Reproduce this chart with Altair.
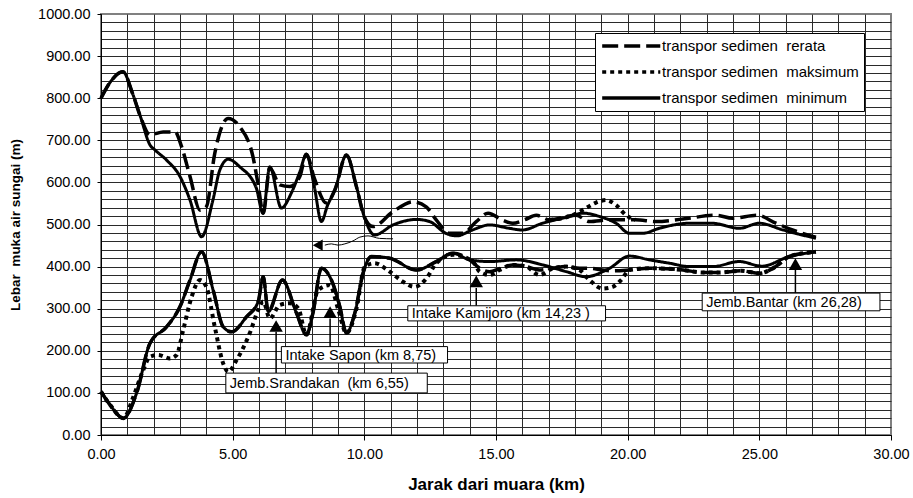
import altair as alt
import pandas as pd

# ---------------- series data (km, lebar m) ----------------
# transpor sedimen minimum (solid)
min_up_km = [0, 0.35, 0.83, 1.2, 1.5, 1.86, 2.05, 2.49, 3.0, 3.38, 3.82, 4.25, 4.51, 4.83, 5.27, 5.9, 6.15,
             6.41, 6.85, 7.23, 7.55, 7.8, 8.1, 8.37, 8.6, 8.88, 9.32, 9.7, 10.0, 10.39, 11.09, 11.98, 12.48,
             13.1, 13.5, 14.1, 14.76, 15.5, 16.0, 16.77, 17.8, 18.3, 18.93, 19.56, 20.07, 20.57, 21.2, 22.35,
             23.2, 24.24, 25.0, 25.9, 27.15]
min_up_val = [800, 838, 863, 811, 756, 689, 677, 653, 614, 558, 471, 558, 629, 655, 637, 586, 527,
              637, 539, 575, 625, 667, 590, 507, 545, 582, 665, 590, 518, 475, 499, 512, 507,
              479, 473, 487, 499, 491, 487, 503, 519, 527, 519, 503, 479, 479, 491, 503,
              503, 491, 503, 487, 467]
min_lo_km = [0, 0.35, 0.85, 1.35, 1.86, 2.49, 3.0, 3.38, 3.82, 4.26, 4.64, 4.96, 5.53, 5.97, 6.16, 6.35,
             6.89, 7.42, 7.8, 8.05, 8.37, 8.75, 9.07, 9.32, 9.64, 9.95, 10.27, 10.96, 11.98, 12.73, 13.37,
             14.0, 14.76, 15.77, 16.78, 17.67, 18.42, 19.31, 20.07, 20.83, 21.59, 22.35, 23.23, 24.24,
             25.1, 26.14, 27.15]
min_lo_val = [103, 71, 40, 99, 218, 257, 305, 368, 435, 344, 257, 245, 281, 317, 376, 293,
              368, 290, 238, 290, 396, 368, 305, 242, 290, 384, 424, 420, 392, 412, 432,
              416, 412, 416, 404, 388, 376, 396, 425, 416, 408, 400, 400, 412,
              401, 424, 435]

# transpor sedimen rerata (long dash)
rer_up_km = [0, 0.35, 0.83, 1.2, 1.5, 1.86, 2.36, 2.81, 3.06, 3.38, 3.76, 4.0, 4.32, 4.83, 5.27, 5.77,
             5.97, 6.16, 6.41, 6.79, 7.17, 7.55, 7.8, 8.1, 8.56, 8.88, 9.32, 9.7, 10.0, 10.33, 11.08,
             11.85, 12.35, 12.73, 13.24, 13.74, 14.25, 14.7, 15.26, 15.64, 16.08, 16.53, 17.03, 18.04,
             18.55, 19.31, 20.3, 21.08, 22.1, 23.36, 23.98, 24.92, 25.63, 26.26, 27.15]
rer_up_val = [800, 838, 863, 811, 756, 713, 720, 720, 685, 614, 534, 542, 669, 752, 732, 661,
              594, 527, 634, 594, 590, 614, 667, 610, 551, 582, 665, 590, 518, 495, 530,
              554, 542, 511, 479, 479, 507, 527, 510, 503, 511, 522, 511, 522,
              507, 511, 511, 507, 513, 522, 515, 522, 503, 487, 470]
rer_lo_km = [0, 0.35, 0.85, 1.35, 1.86, 2.49, 3.0, 3.38, 3.82, 4.26, 4.64, 4.96, 5.53, 5.97, 6.16, 6.35,
             6.89, 7.42, 7.8, 8.05, 8.37, 8.75, 9.07, 9.32, 9.64, 9.95, 10.27, 10.96, 11.98, 12.73, 13.37,
             14.0, 14.38, 14.76, 15.14, 15.64, 16.15, 16.65, 17.16, 17.67, 18.17, 18.55, 19.05, 19.43,
             20.07, 20.83, 22.1, 22.84, 23.48, 24.3, 25.0, 25.57, 26.14, 27.15]
rer_lo_val = [103, 71, 40, 99, 218, 257, 305, 368, 435, 344, 257, 245, 281, 317, 376, 293,
              368, 290, 238, 290, 396, 368, 305, 242, 290, 384, 424, 420, 392, 412, 432,
              416, 396, 388, 395, 404, 400, 392, 396, 400, 396, 396, 392, 390,
              392, 396, 392, 386, 386, 390, 384, 398, 424, 435]

# transpor sedimen maksimum (dotted)
mak_up_km = [17.03, 17.6, 18.04, 18.42, 18.8, 19.18, 19.56, 19.94, 20.3]
mak_up_val = [511, 516, 526, 539, 552, 558, 546, 522, 511]
mak_lo_km = [0, 0.35, 0.85, 1.23, 1.6, 1.86, 2.17, 2.62, 2.87, 3.12, 3.44, 3.76, 4.0, 4.32, 4.64, 4.83,
             5.15, 5.65, 5.97, 6.16, 6.41, 6.79, 7.17, 7.49, 7.8, 8.24, 8.69, 9.0, 9.32, 9.7, 10.02,
             10.39, 10.96, 11.47, 11.91, 12.36, 12.73, 13.37, 14.12, 14.38, 14.76, 15.14, 15.64, 16.15,
             16.65, 17.16, 17.67, 18.17, 18.55, 19.05, 19.43, 19.75, 20.07, 20.83, 22.1, 22.84, 23.48,
             24.3, 25.0, 25.57, 26.14, 27.15]
mak_lo_val = [103, 71, 40, 91, 154, 186, 190, 182, 190, 249, 328, 368, 352, 257, 170, 150,
              178, 242, 297, 317, 277, 309, 313, 301, 238, 344, 356, 300, 242, 300, 400,
              408, 388, 364, 352, 372, 408, 428, 412, 388, 380, 392, 404, 400,
              380, 396, 400, 392, 368, 348, 352, 368, 392, 396, 392, 386, 386,
              390, 384, 398, 424, 435]

series_names = ["transpor sedimen\u00a0 rerata", "transpor sedimen\u00a0 maksimum",
                "transpor sedimen\u00a0 minimum"]

# ---------------- annotations ----------------
ann_labels = ["Jemb.Srandakan\u00a0 (km 6,55)", "Intake Sapon (km 8,75)",
              "Intake Kamijoro (km 14,23 )", "Jemb.Bantar (km 26,28)"]
ann_arrow_km = [6.65, 8.7, 14.25, 26.37]
ann_head_val = [259, 292, 365, 406]
ann_base_val = [245, 277, 349, 392]
ann_box_left = [4.74, 6.85, 11.65, 22.83]
ann_box_right = [12.39, 13.16, 19.16, 29.58]
ann_box_top = [147, 210, 307, 337]
ann_box_bottom = [100, 171, 271, 295]

wave_km = [11.09, 10.58, 10.14, 9.83, 9.57, 9.26, 9.0, 8.75, 8.5]
wave_val = [466, 467, 473, 470, 461, 454, 451, 454, 451]
wave_head_km = [8.23]
wave_head_val = [451]

# ---------------- tables ----------------
rows = []
def add(name, bank, kms, vals):
    for k, v in zip(kms, vals):
        rows.append({"series": name, "bank": bank, "km": k, "val": v})

add(series_names[2], "up", min_up_km, min_up_val)
add(series_names[2], "lo", min_lo_km, min_lo_val)
add(series_names[0], "up", rer_up_km, rer_up_val)
add(series_names[0], "lo", rer_lo_km, rer_lo_val)
add(series_names[1], "up", mak_up_km, mak_up_val)
add(series_names[1], "lo", mak_lo_km, mak_lo_val)
lines_df = pd.DataFrame(rows)

ann_df = pd.DataFrame({
    "label": ann_labels, "akm": ann_arrow_km, "head": ann_head_val, "base": ann_base_val,
    "left": ann_box_left, "right": ann_box_right, "top": ann_box_top, "bottom": ann_box_bottom,
})
ann_df["mid"] = (ann_df["top"] + ann_df["bottom"]) / 2
wave_df = pd.DataFrame({"km": wave_km, "val": wave_val})
wave_head_df = pd.DataFrame({"km": wave_head_km, "val": wave_head_val})

FONT = "Liberation Sans"
x_scale = alt.Scale(domain=[0, 30], nice=False, zero=False)
y_scale = alt.Scale(domain=[0, 1000], nice=False, zero=False)

x_axis = alt.Axis(
    values=list(range(0, 31)),
    labelExpr="datum.value % 5 === 0 ? format(datum.value, '.2f') : ''",
    tickOpacity={"condition": {"test": "datum.value % 5 === 0", "value": 1}, "value": 0},
    gridOpacity={"condition": {"test": "datum.value >= 30", "value": 0}, "value": 1},
    tickSize=5, tickColor="black", domainColor="black", domainWidth=1,
    gridColor="#2a2a2a", gridWidth=1, labelOverlap=False, labelFlush=False,
    labelPadding=7, labelFontSize=14.5, labelFont=FONT, labelColor="black",
    title="Jarak dari muara (km)", titleFont=FONT, titleFontSize=17, titleFontWeight="bold",
    titleY=49.5, titleBaseline="middle", titleColor="black",
)
y_axis = alt.Axis(
    values=list(range(0, 1001, 20)),
    labelExpr="datum.value % 100 === 0 ? format(datum.value, '.2f') : ''",
    tickOpacity={"condition": {"test": "datum.value % 100 === 0", "value": 1}, "value": 0},
    gridOpacity={"condition": {"test": "datum.value >= 1000", "value": 0}, "value": 1},
    tickSize=4, tickColor="black", domainColor="black", domainWidth=1,
    gridColor="#2a2a2a", gridWidth=1, labelOverlap=False, labelFlush=False,
    labelPadding=7, labelFontSize=14.5, labelFont=FONT, labelColor="black",
    title="Lebar\u00a0 muka air sungai (m)", titleFont=FONT, titleFontSize=13.5,
    titleFontWeight="bold", titleX=-86, titleY=210.5, titleAngle=270,
    titleAlign="center", titleBaseline="middle", titleColor="black",
)

def X(f):
    return alt.X(f"{f}:Q", scale=x_scale, axis=x_axis)

def Y(f):
    return alt.Y(f"{f}:Q", scale=y_scale, axis=y_axis)

dash = alt.StrokeDash(
    "series:N",
    scale=alt.Scale(domain=series_names, range=[[16, 6], [4, 4], [1, 0]]),
    legend=alt.Legend(
        title=None, orient="none", legendX=494, legendY=19,
        symbolType="M-1,0H9", symbolSize=135, symbolStrokeWidth=3.5,
        symbolStrokeColor="black", labelFont=FONT, labelFontSize=15,
        labelColor="black", labelOffset=46, labelLimit=400, padding=5, rowPadding=10,
        strokeColor="black", fillColor="white", cornerRadius=0,
    ),
)

def line_layer(name, width):
    return alt.Chart(lines_df).transform_filter(
        alt.datum.series == name
    ).mark_line(color="black", strokeWidth=width, interpolate="monotone", strokeCap="butt").encode(
        x=X("km"), y=Y("val"), strokeDash=dash, detail="bank:N"
    )

l_mak = line_layer(series_names[1], 4)
l_rer = line_layer(series_names[0], 3.5)
l_min = line_layer(series_names[2], 3)

wave = alt.Chart(wave_df).mark_line(color="black", strokeWidth=1, interpolate="monotone").encode(
    x=X("km"), y=Y("val"))
wave_head = alt.Chart(wave_head_df).mark_point(
    shape="triangle-left", filled=True, color="black", size=130, opacity=1).encode(
    x=X("km"), y=Y("val"))

arrow_line = alt.Chart(ann_df).mark_rule(color="black", strokeWidth=1.5).encode(
    x=X("akm"), y=Y("base"), y2="top:Q")
arrow_head = alt.Chart(ann_df).mark_point(
    shape="triangle-up", filled=True, color="black", size=180, opacity=1).encode(
    x=X("akm"), y=Y("head"))
boxes = alt.Chart(ann_df).mark_rect(fill="white", stroke="black", strokeWidth=1).encode(
    x=X("left"), x2="right:Q", y=Y("top"), y2="bottom:Q")
texts = alt.Chart(ann_df).mark_text(
    align="left", baseline="middle", dx=4, dy=1, font=FONT, fontSize=14.5, color="black").encode(
    x=X("left"), y=Y("mid"), text="label:N")

chart = alt.layer(
    l_mak, l_rer, l_min, wave, wave_head, arrow_line, arrow_head, boxes, texts
).properties(
    width=790, height=421,
    autosize=alt.AutoSizeParams(type="none"),
    padding={"left": 101, "top": 14, "right": 22, "bottom": 63},
    background="white",
).configure_view(
    stroke="#808080", strokeWidth=2
)

chart.save("out.html", embed_options={"renderer": "svg", "actions": False})
